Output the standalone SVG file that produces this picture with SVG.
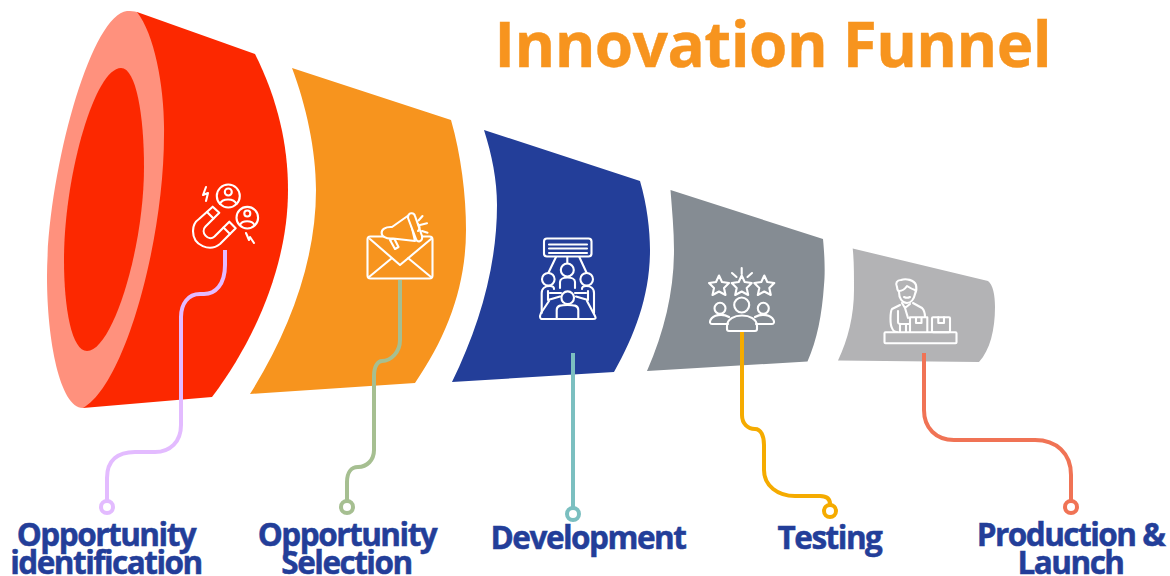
<svg xmlns="http://www.w3.org/2000/svg" width="1170" height="576" viewBox="0 0 1170 576">
<style>
.lbl{font-family:"Open Sans","Liberation Sans",sans-serif;font-weight:700;fill:#233e99;stroke:#233e99;stroke-width:.5;font-size:31.500px;letter-spacing:-1.5px;text-anchor:middle}
.ttl{font-family:"Open Sans","Liberation Sans",sans-serif;font-weight:700;fill:#f7941e;stroke:#f7941e;stroke-width:.4;font-size:62px;letter-spacing:-.55px}
.ic{fill:none;stroke:#fff;stroke-width:2.100;stroke-linecap:round;stroke-linejoin:round}
.cn{fill:none;stroke-width:4}
.dot{fill:#fff;stroke-width:4}
</style>
<rect width="1170" height="576" fill="#fff"/>
<text class="ttl" x="494.500" y="67">Innovation Funnel</text>
<g id="stage-1">
<path d="M137 12L255 54C278 100 288 145 288 190C288 265 255 340 212 397L83 408Z" fill="#fc2800"/>
<path d="M137 12C155 35 165 90 164 135C164 240 125 385 83 408C60 408 47 340 47 277C47 175 90 15 127 11C131 11 134 11 137 12Z" fill="#ff917d"/>
<path d="M121 68C136 68 144 115 144 167C144 250 112 351 87 351C72 351 64 310 64 260C64 175 95 68 121 68Z" fill="#fc2800"/>
<g class="ic">
<circle cx="228.300" cy="196" r="11.500"/><circle cx="228.300" cy="192" r="3.500"/><path d="M220 204C222 198 234 198 236.500 204"/>
<circle cx="247.300" cy="217.700" r="10.800"/><circle cx="247.300" cy="213.500" r="3"/><path d="M240 225C242 220 252 220 254.500 225"/>
<path d="M206 187L203 195L208 193L206 201"/><path d="M246 233L249 240L250 237L254 243"/>
<path d="M212.700 206.700L219.300 212.700L205.500 226.500C200 232 208 242 214.500 236.500L229.300 221.700L235.700 228.300L220 244C210 252 193 246 193 231C193 224 196 221 199 219Z"/>
<path d="M207 212L213.500 218.500M223.500 227.500L230 234"/>
</g>
</g>
<g id="stage-2">
<path d="M292 68L451 120C461 155 466 195 466 230C466 285 448 335 415 383L250 394C290 330 316 260 316 190C316 150 306 105 292 68Z" fill="#f7941e"/>
<g class="ic">
<rect x="367.500" y="236.500" width="65" height="42" rx="3"/>
<path d="M369 277L392 258M431 277L408 258M370 239L400 265L431 239"/>
<g fill="#f7941e">
<path d="M390 240L395 249L398.500 247L394 238Z"/>
<path d="M392 227C378 226 378 240 393 238.500L415 241L409 215Z"/>
<path d="M408 218C408 212 414 212 415 216L422 236C423 242 417 243 416 239Z"/>
</g>
<path d="M418 224C420 226 420 229 418 231M418.500 220.500L422.500 216M420 225L427 223.300M422 231L427.500 232.700"/>
</g>
</g>
<g id="stage-3">
<path d="M484 130L640 181C647 205 650 230 650 250C650 295 635 335 614 372L452 382C480 325 497 265 497 205C497 180 492 155 484 130Z" fill="#233e99"/>
<g class="ic">
<rect x="544" y="238.500" width="47.500" height="18" rx="3"/>
<path d="M549 244.500H587M549 248.500H587M549 253H587"/>
<path d="M556 257L548.300 273M567.300 257V263.300M579.300 257L586.700 273"/>
<circle cx="567.300" cy="270" r="6.500"/><circle cx="548.300" cy="279.300" r="6.300"/><circle cx="586.700" cy="279.300" r="6.300"/><circle cx="567.700" cy="297.700" r="6.300"/>
<path d="M560 288V282C560 276 575 276 575 282V288"/>
<path d="M541.700 313V293C541.700 288 546 286 550 286C553 286 554 287 554 289M594 313V293C594 288 590 286 586 286C583 286 582 287 582 289"/>
<path d="M548 291V300L560 296.500M588 291V300L576 296.500M550 293H561M575 293H586"/>
<path d="M549 301L541 313L540 316C540 319 541 319 543 319H593C596 319 596 318 595 316L587 301"/>
<path d="M556.700 318V310C556.700 305 562 305 567.500 305C573 305 578.300 305 578.300 310V318"/>
</g>
</g>
<g id="stage-4">
<path d="M670.500 190L823 239C825 260 825 275 824 285C822 315 817 340 807.500 361.500L647 371C665 330 674 290 674 250C674 230 672 210 670.500 190Z" fill="#858c93"/>
<g class="ic">
<path d="M719 275.500L722 282L729 283L724 288L725.500 295L719 291.500L712.500 295L714 288L709 283L716 282Z"/>
<path d="M741.700 275.500L744.700 282L751.700 283L746.700 288L748.200 295L741.700 291.500L735.200 295L736.700 288L731.700 283L738.700 282Z"/>
<path d="M764.300 275.500L767.300 282L774.300 283L769.300 288L770.800 295L764.300 291.500L757.800 295L759.300 288L754.300 283L761.300 282Z"/>
<path d="M741.700 268V274M732 273L736.500 277M752 273L747.500 277"/>
<circle cx="741.700" cy="305" r="7.500"/><circle cx="720" cy="308.300" r="5.500"/><circle cx="763.300" cy="308.300" r="5.500"/>
<path d="M727 329V326C727 312 757 312 757 326V329C757 330.500 756 331 755 331H729C728 331 727 330.500 727 329Z"/>
<path d="M728 324H712C710 324 709.500 322 710.500 320C713 315 722 313 729 317M756 324H772C774 324 774.500 322 773.500 320C771 315 762 313 755 317"/>
</g>
</g>
<g id="stage-5">
<path d="M852.700 248.500L988 281C993 285 995 295 995 307C995 330 990 350 979 362L838 360.500C848 340 854 315 854 290C854 275 854 260 852.700 248.500Z" fill="#b3b3b5"/>
<g class="ic">
<rect x="884.500" y="332.300" width="72" height="11" rx="1"/>
<rect x="932" y="317.300" width="18" height="15" rx="1"/><path d="M938.300 317.300V323H944V317.300"/>
<path d="M910 332V317.300H927.300V332M916 317.300V323H921.500V317.300"/>
<path d="M897 287C895 283 897 280 901 280C906 278 914 280 916 285C917 289 916 292 915 294C914 299 911 303 907 303C902 303 899 298 899 292C898 291 897 289 897 287Z"/>
<path d="M899 291C902 291 905 289 907 286C910 288 912 289 915 290M904 297C906 298 908 298 910 297"/>
<path d="M902 303L905 308L910 304M905 308L908 318M900 305L892 309C890 312 890 325 892 328C893 331 895 332 897 332M913 303L922 308C924 310 925 314 925 317"/>
<path d="M898 311V322C898 324 899 324 901 324H910M900 325V332M906 325V332"/>
</g>
</g>
<g id="connectors">
<path class="cn" stroke="#e3bbff" d="M225 250V265C225 285 215 294 204 294H200C188 294 181 304 181 317V425C181 442 170 452 155 452H135C118 452 107 460 107 478V500"/>
<path class="cn" stroke="#a6bf91" d="M400 280V340C400 352 391 361 382 361C378 361 374 366 374 376V450C374 460 367 467 358 467C351 467 347 473 347 482V500"/>
<path class="cn" stroke="#7bbfc0" d="M573 353V507"/>
<path class="cn" stroke="#f5ab00" d="M742 332V415C742 424 748 429 755 429C761 429 764 436 764 445V470C764 486 778 496 795 496H820C827 496 830 499 830 504"/>
<path class="cn" stroke="#f07355" d="M924 353V410C924 428 936 440 954 440H1035C1056 440 1071 453 1071 475V500"/>
<circle class="dot" stroke="#e3bbff" cx="107" cy="507" r="6"/>
<circle class="dot" stroke="#a6bf91" cx="347" cy="507" r="6"/>
<circle class="dot" stroke="#7bbfc0" cx="573" cy="514" r="6"/>
<circle class="dot" stroke="#f5ab00" cx="830" cy="511" r="6"/>
<circle class="dot" stroke="#f07355" cx="1071" cy="507" r="6"/>
</g>
<g id="labels">
<text class="lbl" x="106" y="546">Opportunity</text>
<text class="lbl" x="106" y="573.500">identification</text>
<text class="lbl" x="347" y="546">Opportunity</text>
<text class="lbl" x="346.500" y="573.500">Selection</text>
<text class="lbl" x="588" y="549">Development</text>
<text class="lbl" x="829.500" y="549">Testing</text>
<text class="lbl" x="1070.500" y="546">Production &amp;</text>
<text class="lbl" x="1070.500" y="573.500">Launch</text>
</g>
</svg>
